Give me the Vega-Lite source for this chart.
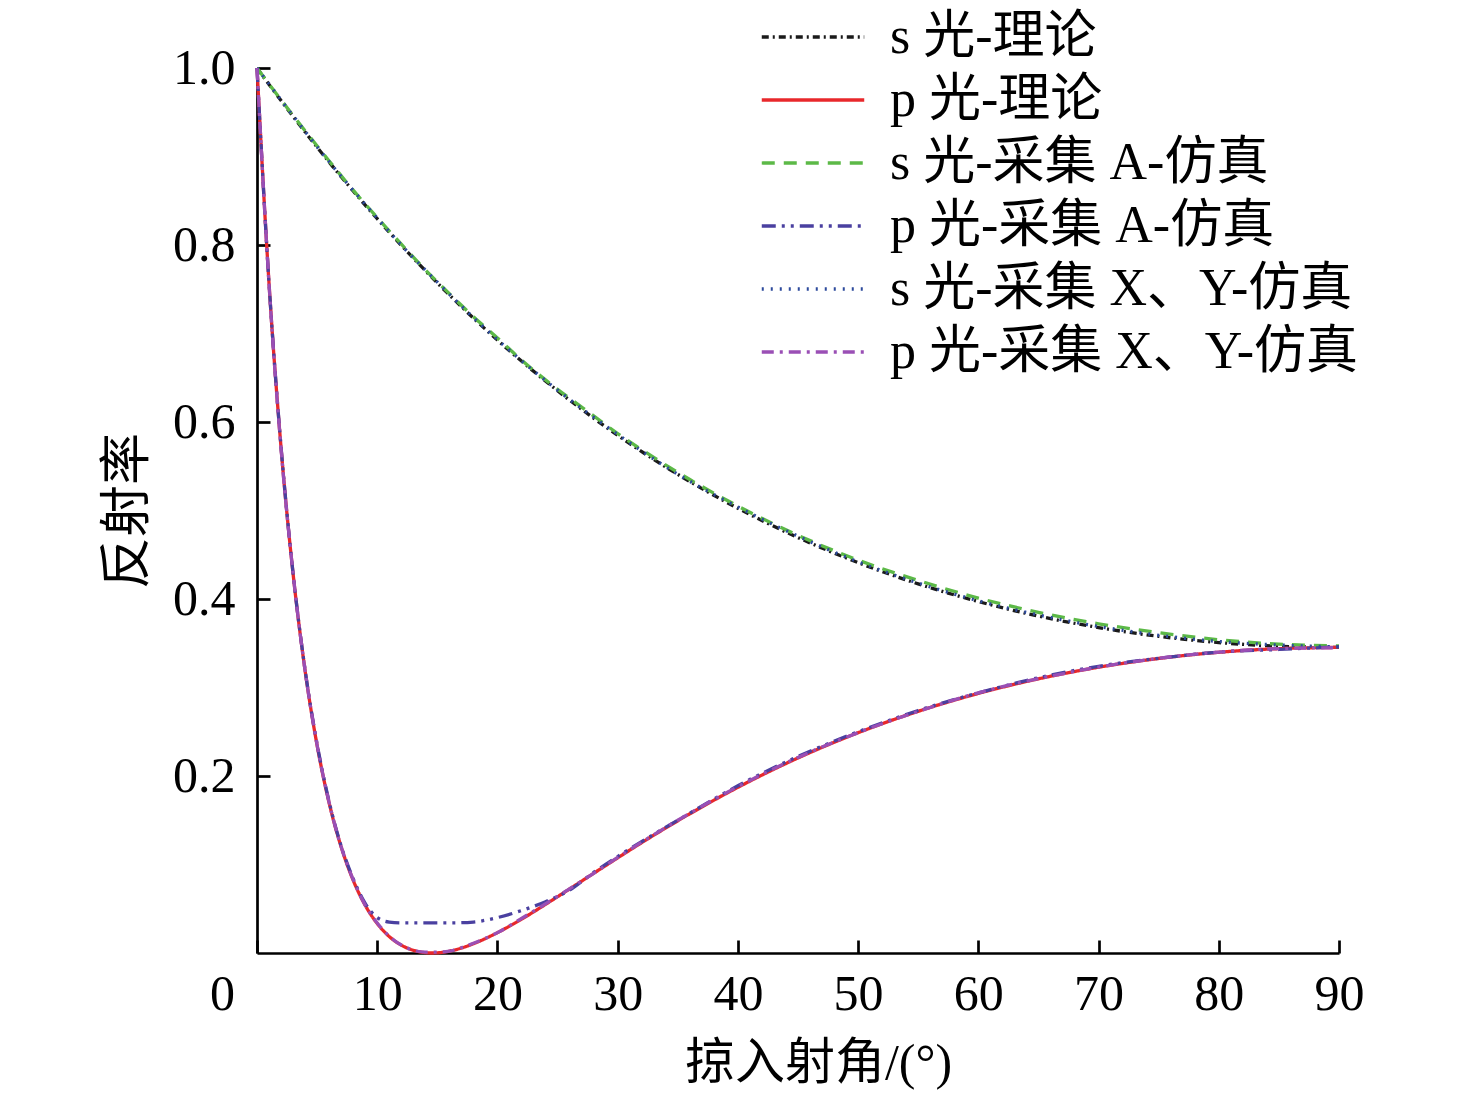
{
  "$schema": "https://vega.github.io/schema/vega-lite/v6.json",
  "width": 1082,
  "height": 885,
  "autosize": {"type": "none"},
  "padding": {"left": 257, "top": 68, "right": 137, "bottom": 147},
  "background": "white",
  "config": {
    "view": {"stroke": null},
    "font": "Liberation Serif, Noto Sans CJK SC"
  },
  "data": {
    "values": [
      {"g": 0, "s 光-理论": 1, "p 光-理论": 1, "s 光-采集 A-仿真": 1, "p 光-采集 A-仿真": 1, "s 光-采集 X、Y-仿真": 1, "p 光-采集 X、Y-仿真": 1},
      {"g": 1, "s 光-理论": 0.9814, "p 光-理论": 0.7567, "p 光-采集 A-仿真": 0.757, "p 光-采集 X、Y-仿真": 0.756},
      {"g": 2, "s 光-理论": 0.9632, "p 光-理论": 0.5711, "s 光-采集 A-仿真": 0.964, "p 光-采集 A-仿真": 0.572, "p 光-采集 X、Y-仿真": 0.570},
      {"g": 3, "s 光-理论": 0.9453, "p 光-理论": 0.4287, "p 光-采集 A-仿真": 0.429, "s 光-采集 X、Y-仿真": 0.946, "p 光-采集 X、Y-仿真": 0.429},
      {"g": 4, "s 光-理论": 0.9277, "p 光-理论": 0.3191, "s 光-采集 A-仿真": 0.929, "p 光-采集 A-仿真": 0.320, "p 光-采集 X、Y-仿真": 0.319},
      {"g": 5, "s 光-理论": 0.9105, "p 光-理论": 0.2346, "p 光-采集 A-仿真": 0.236, "p 光-采集 X、Y-仿真": 0.235},
      {"g": 6, "s 光-理论": 0.8937, "p 光-理论": 0.1696, "s 光-采集 A-仿真": 0.895, "p 光-采集 A-仿真": 0.171, "s 光-采集 X、Y-仿真": 0.894, "p 光-采集 X、Y-仿真": 0.170},
      {"g": 7, "s 光-理论": 0.8771, "p 光-理论": 0.1199, "p 光-采集 A-仿真": 0.121, "p 光-采集 X、Y-仿真": 0.120},
      {"g": 8, "s 光-理论": 0.8610, "p 光-理论": 0.0822, "s 光-采集 A-仿真": 0.862, "p 光-采集 A-仿真": 0.084, "p 光-采集 X、Y-仿真": 0.083},
      {"g": 9, "s 光-理论": 0.8451, "p 光-理论": 0.0539, "p 光-采集 A-仿真": 0.056, "s 光-采集 X、Y-仿真": 0.846, "p 光-采集 X、Y-仿真": 0.054},
      {"g": 10, "s 光-理论": 0.8297, "p 光-理论": 0.0333, "s 光-采集 A-仿真": 0.831, "p 光-采集 A-仿真": 0.040, "p 光-采集 X、Y-仿真": 0.034},
      {"g": 11, "s 光-理论": 0.8145, "p 光-理论": 0.0186, "p 光-采集 A-仿真": 0.035, "p 光-采集 X、Y-仿真": 0.019},
      {"g": 12, "s 光-理论": 0.7997, "p 光-理论": 0.0089, "s 光-采集 A-仿真": 0.801, "p 光-采集 A-仿真": 0.034, "s 光-采集 X、Y-仿真": 0.800, "p 光-采集 X、Y-仿真": 0.009},
      {"g": 13, "s 光-理论": 0.7852, "p 光-理论": 0.0031, "p 光-采集 X、Y-仿真": 0.003},
      {"g": 14, "s 光-理论": 0.7710, "p 光-理论": 0.0004, "s 光-采集 A-仿真": 0.772, "p 光-采集 A-仿真": 0.034, "p 光-采集 X、Y-仿真": 0.001},
      {"g": 14.5, "p 光-理论": 0.0},
      {"g": 15, "s 光-理论": 0.7571, "p 光-理论": 0.0002, "s 光-采集 X、Y-仿真": 0.758, "p 光-采集 X、Y-仿真": 0.001},
      {"g": 16, "s 光-理论": 0.7436, "p 光-理论": 0.0021, "s 光-采集 A-仿真": 0.745, "p 光-采集 A-仿真": 0.034, "p 光-采集 X、Y-仿真": 0.002},
      {"g": 17, "s 光-理论": 0.7304, "p 光-理论": 0.0056, "p 光-采集 X、Y-仿真": 0.006},
      {"g": 18, "s 光-理论": 0.7174, "p 光-理论": 0.0105, "s 光-采集 A-仿真": 0.719, "p 光-采集 A-仿真": 0.035, "s 光-采集 X、Y-仿真": 0.718, "p 光-采集 X、Y-仿真": 0.011},
      {"g": 19, "p 光-采集 A-仿真": 0.037},
      {"g": 20, "s 光-理论": 0.6925, "p 光-理论": 0.0230, "s 光-采集 A-仿真": 0.695, "p 光-采集 A-仿真": 0.040, "p 光-采集 X、Y-仿真": 0.023},
      {"g": 21, "s 光-采集 X、Y-仿真": 0.681},
      {"g": 22, "s 光-理论": 0.6688, "p 光-理论": 0.0382, "s 光-采集 A-仿真": 0.670, "p 光-采集 A-仿真": 0.048, "p 光-采集 X、Y-仿真": 0.039},
      {"g": 24, "p 光-采集 A-仿真": 0.058},
      {"g": 25, "s 光-理论": 0.6353, "p 光-理论": 0.0636, "s 光-采集 A-仿真": 0.637, "s 光-采集 X、Y-仿真": 0.636, "p 光-采集 X、Y-仿真": 0.064},
      {"g": 26, "p 光-采集 A-仿真": 0.071},
      {"g": 28, "s 光-理论": 0.6043, "p 光-理论": 0.0900, "s 光-采集 A-仿真": 0.607, "p 光-采集 A-仿真": 0.091, "p 光-采集 X、Y-仿真": 0.090},
      {"g": 30, "s 光-理论": 0.5849, "p 光-理论": 0.1075, "s 光-采集 A-仿真": 0.587, "p 光-采集 A-仿真": 0.109, "s 光-采集 X、Y-仿真": 0.586, "p 光-采集 X、Y-仿真": 0.108},
      {"g": 33, "s 光-理论": 0.5577, "p 光-理论": 0.1331, "s 光-采集 A-仿真": 0.560, "p 光-采集 A-仿真": 0.134},
      {"g": 35, "s 光-采集 X、Y-仿真": 0.541, "p 光-采集 X、Y-仿真": 0.150},
      {"g": 36, "s 光-理论": 0.5327, "p 光-理论": 0.1573, "s 光-采集 A-仿真": 0.535, "p 光-采集 A-仿真": 0.158},
      {"g": 40, "s 光-理论": 0.5025, "p 光-理论": 0.1872, "s 光-采集 A-仿真": 0.505, "p 光-采集 A-仿真": 0.189, "s 光-采集 X、Y-仿真": 0.504, "p 光-采集 X、Y-仿真": 0.188},
      {"g": 45, "s 光-理论": 0.4694, "p 光-理论": 0.2204, "s 光-采集 A-仿真": 0.472, "p 光-采集 A-仿真": 0.222, "s 光-采集 X、Y-仿真": 0.471, "p 光-采集 X、Y-仿真": 0.221},
      {"g": 50, "s 光-理论": 0.4411, "p 光-理论": 0.2489, "s 光-采集 A-仿真": 0.444, "p 光-采集 A-仿真": 0.250, "s 光-采集 X、Y-仿真": 0.442, "p 光-采集 X、Y-仿真": 0.249},
      {"g": 55, "s 光-理论": 0.4171, "p 光-理论": 0.2731, "s 光-采集 A-仿真": 0.421, "p 光-采集 A-仿真": 0.274, "s 光-采集 X、Y-仿真": 0.418, "p 光-采集 X、Y-仿真": 0.273},
      {"g": 60, "s 光-理论": 0.3971, "p 光-理论": 0.2933, "s 光-采集 A-仿真": 0.401, "p 光-采集 A-仿真": 0.294, "s 光-采集 X、Y-仿真": 0.398, "p 光-采集 X、Y-仿真": 0.294},
      {"g": 65, "s 光-理论": 0.3807, "p 光-理论": 0.3098, "s 光-采集 A-仿真": 0.385, "p 光-采集 A-仿真": 0.311, "s 光-采集 X、Y-仿真": 0.382, "p 光-采集 X、Y-仿真": 0.310},
      {"g": 70, "s 光-理论": 0.3677, "p 光-理论": 0.3229, "s 光-采集 A-仿真": 0.372, "p 光-采集 A-仿真": 0.324, "s 光-采集 X、Y-仿真": 0.369, "p 光-采集 X、Y-仿真": 0.323},
      {"g": 75, "s 光-理论": 0.3578, "p 光-理论": 0.3328, "s 光-采集 A-仿真": 0.362, "p 光-采集 A-仿真": 0.333, "s 光-采集 X、Y-仿真": 0.359, "p 光-采集 X、Y-仿真": 0.333},
      {"g": 80, "s 光-理论": 0.3508, "p 光-理论": 0.3398, "s 光-采集 A-仿真": 0.354, "p 光-采集 A-仿真": 0.340, "s 光-采集 X、Y-仿真": 0.352, "p 光-采集 X、Y-仿真": 0.340},
      {"g": 85, "s 光-理论": 0.3467, "p 光-理论": 0.3439, "s 光-采集 A-仿真": 0.349, "p 光-采集 A-仿真": 0.343, "s 光-采集 X、Y-仿真": 0.348, "p 光-采集 X、Y-仿真": 0.344},
      {"g": 90, "s 光-理论": 0.3453, "p 光-理论": 0.3453, "s 光-采集 A-仿真": 0.347, "p 光-采集 A-仿真": 0.346, "s 光-采集 X、Y-仿真": 0.346, "p 光-采集 X、Y-仿真": 0.345}
    ]
  },
  "transform": [
    {"fold": ["s 光-理论", "p 光-理论", "s 光-采集 A-仿真", "p 光-采集 A-仿真", "s 光-采集 X、Y-仿真", "p 光-采集 X、Y-仿真"], "as": ["series", "R"]},
    {"filter": "isValid(datum.R)"}
  ],
  "mark": {"type": "line", "interpolate": "monotone", "strokeWidth": 3.3},
  "encoding": {
    "x": {
      "field": "g",
      "type": "quantitative",
      "scale": {"domain": [0, 90], "nice": false},
      "axis": {
        "values": [0, 10, 20, 30, 40, 50, 60, 70, 80, 90],
        "grid": false,
        "tickSize": -13,
        "tickWidth": 2.7,
        "tickColor": "black",
        "domainColor": "black",
        "domainWidth": 2.7,
        "labelFontSize": 50,
        "labelColor": "black",
        "labelPadding": 29,
        "labelOffset": {"condition": {"test": "datum.value === 0", "value": -35}, "value": 0},
        "labelFlush": false,
        "labelOverlap": false,
        "title": "掠入射角/(°)",
        "titleFontSize": 50,
        "titleFontWeight": "normal",
        "titleColor": "black",
        "titlePadding": 19,
        "titleX": 561
      }
    },
    "y": {
      "field": "R",
      "type": "quantitative",
      "scale": {"domain": [0, 1], "nice": false},
      "axis": {
        "values": [0.2, 0.4, 0.6, 0.8, 1.0],
        "format": ".1f",
        "grid": false,
        "tickSize": -13,
        "tickWidth": 2.7,
        "tickColor": "black",
        "domainColor": "black",
        "domainWidth": 2.7,
        "labelFontSize": 50,
        "labelColor": "black",
        "labelPadding": 35,
        "labelFlush": false,
        "labelOverlap": false,
        "title": "反射率",
        "titleFontSize": 52,
        "titleFontWeight": "normal",
        "titleColor": "black",
        "titlePadding": 18
      }
    },
    "color": {
      "field": "series",
      "type": "nominal",
      "sort": null,
      "scale": {
        "domain": ["s 光-理论", "p 光-理论", "s 光-采集 A-仿真", "p 光-采集 A-仿真", "s 光-采集 X、Y-仿真", "p 光-采集 X、Y-仿真"],
        "range": ["#1a1a1a", "#e8282b", "#5cb947", "#4a40a0", "#2d4a9c", "#9a4fb5"]
      },
      "legend": {
        "title": null,
        "orient": "none",
        "legendX": 503,
        "legendY": -55,
        "symbolType": "stroke",
        "symbolSize": 10500,
        "symbolStrokeWidth": 3.3,
        "clipHeight": 48,
        "labelFontSize": 52,
        "labelColor": "black",
        "labelLimit": 1000,
        "labelOffset": 24,
        "rowPadding": 11
      }
    },
    "strokeDash": {
      "field": "series",
      "type": "nominal",
      "sort": null,
      "scale": {
        "domain": ["s 光-理论", "p 光-理论", "s 光-采集 A-仿真", "p 光-采集 A-仿真", "s 光-采集 X、Y-仿真", "p 光-采集 X、Y-仿真"],
        "range": [[7, 4, 2, 4], [1, 0], [13, 9], [14, 6, 3, 6, 3, 6], [2, 7], [12, 6, 3, 6]]
      },
      "legend": {
        "title": null,
        "orient": "none",
        "legendX": 503,
        "legendY": -55,
        "symbolType": "stroke",
        "symbolSize": 10500,
        "symbolStrokeWidth": 3.3,
        "clipHeight": 48,
        "labelFontSize": 52,
        "labelColor": "black",
        "labelLimit": 1000,
        "labelOffset": 24,
        "rowPadding": 11
      }
    }
  }
}
